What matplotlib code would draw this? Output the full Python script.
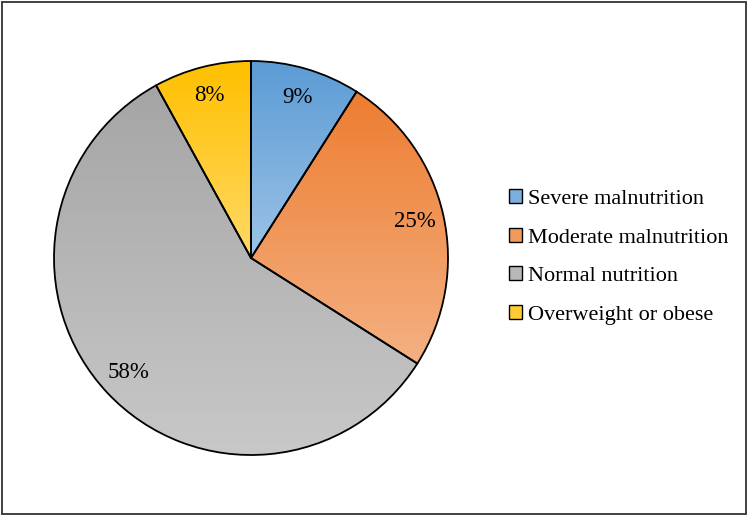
import numpy as np
import matplotlib
matplotlib.use("Agg")
import matplotlib.pyplot as plt
from matplotlib.colors import LinearSegmentedColormap
from matplotlib.patches import Rectangle, Patch

plt.rcParams['font.family'] = ['Liberation Serif', 'DejaVu Serif']

labels = ["Severe malnutrition", "Moderate malnutrition", "Normal nutrition", "Overweight or obese"]
values = [9, 25, 58, 8]
top_colors = ["#5b9bd5", "#ed7d31", "#a5a5a5", "#ffc000"]
bottom_colors = ["#9dc3e6", "#f4b183", "#c8c8c8", "#ffd966"]
mid_colors = ["#7cafdd", "#f09a5c", "#b8b8b8", "#ffcc33"]

fig = plt.figure(figsize=(7.5, 5.18), dpi=100)
fig.patches.append(Rectangle((2 / 750, 4 / 518), 744 / 750, 512 / 518, transform=fig.transFigure,
                             fill=False, edgecolor="#333333", linewidth=1.3))

r = 200 / 197
ax = fig.add_axes([(251 - 200) / 750, (518 - 258 - 200) / 518, 400 / 750, 400 / 518])

wedges, texts, autotexts = ax.pie(values, startangle=90, counterclock=False,
                                  autopct="%d%%", pctdistance=0.85,
                                  wedgeprops=dict(edgecolor="black", linewidth=1.3),
                                  textprops=dict(fontsize=16.5))

# vertical gradient fill inside each slice
for w, c1, c2 in zip(wedges, top_colors, bottom_colors):
    w.set_facecolor("none")
    ext = w.get_path().get_extents(w.get_transform() - ax.transData)
    cmap = LinearSegmentedColormap.from_list("g", [c1, c2])
    grad = np.linspace(0, 1, 256).reshape(-1, 1)
    im = ax.imshow(grad, cmap=cmap, aspect="auto",
                   extent=[ext.x0, ext.x1, ext.y0, ext.y1], origin="upper", zorder=0.5)
    im.set_clip_path(w)

ax.set_xlim(-r, r)
ax.set_ylim(-r, r)
ax.set_aspect("equal")
ax.axis("off")

handles = [Patch(facecolor=c, edgecolor="black", linewidth=1) for c in mid_colors]
fig.legend(handles, labels, loc="center left", bbox_to_anchor=(489 / 750, 1 - 257 / 518),
           frameon=False, fontsize=16, handlelength=0.6, handleheight=0.6,
           handletextpad=0.25, labelspacing=0.84)

fig.savefig("out.png", dpi=100)
